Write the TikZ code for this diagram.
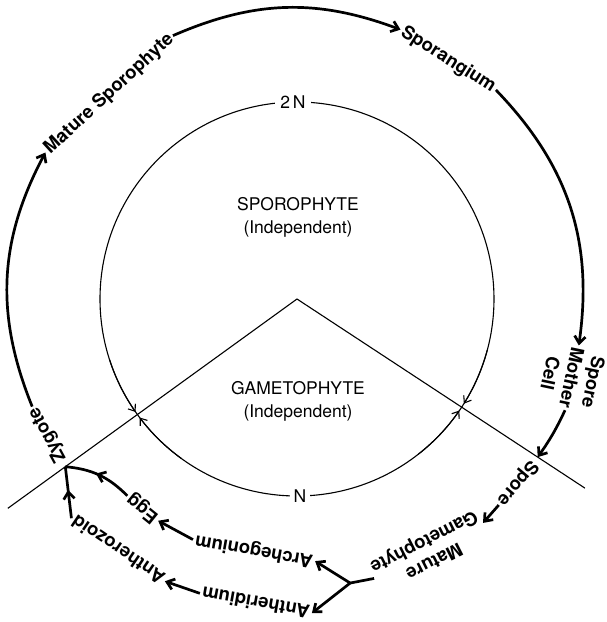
\documentclass[tikz,border=0pt]{standalone}
\usepackage{fontspec}
\setmainfont{TeX Gyre Heros}
\usepackage{tikz}
\usetikzlibrary{arrows.meta,decorations.markings}

\begin{document}
\begin{tikzpicture}[x=1pt, y=1pt, thick]
    \tikzstyle{stage} = [inner sep=2pt, align=center, font=\fontsize{18.5}{22}\selectfont\bfseries]
    \tikzstyle{phase} = [align=center, font=\fontsize{17.5}{23}\selectfont]
    \tikzstyle{flow} = [draw, line width=2.7pt, -{Straight Barb[length=7pt,width=11pt]}]
    \tikzstyle{plain} = [draw, line width=2.7pt]
    \tikzstyle{ring} = [draw, line width=1.1pt]
    \tikzstyle{ringarrow} = [draw, line width=1.1pt, -{Straight Barb[length=6pt,width=9pt]}]
    \tikzstyle{midarrow} = [plain, postaction={decorate}, decoration={markings, mark=at position 0.55 with {\arrow{Straight Barb[length=7pt,width=11pt]}}}]

    \useasboundingbox (-297,-323) rectangle (309,299);

    % inner ring: 2N above, N below the V
    \coordinate (apex) at (0,0);
    \draw[ring] (apex) circle [radius=197];
    \node[phase, fill=white, inner sep=5pt] (twoN) at (-4,197) {2\,N};
    \node[phase, fill=white, inner sep=4pt] (oneN) at (3,-197) {N};
    \node[phase] (sporo) at (1,82) {SPOROPHYTE\\(Independent)};
    \node[phase] (gameto) at (1,-102) {GAMETOPHYTE\\(Independent)};

    \coordinate (lend) at (215.9:357);
    \coordinate (rend) at (-33.3:344.5);
    \draw[ring] (lend) -- (apex) -- (rend);
    \draw[ringarrow] (198:197) arc[start angle=198, end angle=215, radius=197];
    \draw[ringarrow] (234:197) arc[start angle=234, end angle=217, radius=197];
    \draw[ringarrow] (-15:197) arc[start angle=-15, end angle=-32.1, radius=197];
    \draw[ringarrow] (-52:197) arc[start angle=-52, end angle=-34.5, radius=197];

    % life cycle stages
    \node[stage, rotate=42.5] (mspo) at (132.5:278) {Mature Sporophyte};
    \node[stage, rotate=-32.3] (spor) at (57.7:283) {Sporangium};
    \node[stage, rotate=-102] (smc) at (-16:286) {Spore\\Mother\\Cell};
    \node[stage, rotate=-130] (spore) at (-39.9:287) {Spore};
    \node[stage, rotate=-153] (mgam) at (-62.4:284) {Mature\\Gametophyte};
    \node[stage, rotate=170] (arch) at (-99.7:255) {Archegonium};
    \node[stage, rotate=141] (egg) at (-126.4:260) {Egg};
    \node[stage, rotate=170] (anth) at (-97.7:307) {Antheridium};
    \node[stage, rotate=146] (antz) at (-125.5:308) {Antherozoid};
    \node[stage, rotate=118.6] (zyg) at (208.6:284) {Zygote};

    \coordinate (zy) at (215.9:286);
    \coordinate (meio) at (-33.3:288);
    \coordinate (fork) at (-79.4:289);

    \draw[flow] (zyg.east) to[bend left=25] (mspo.west);
    \draw[flow] (mspo.east) to[bend left=22] (spor.west);
    \draw[flow] (spor.east) to[bend left=26] (smc.west);
    \draw[flow] (smc.east) to[bend left=5] (meio);
    \draw[flow] (spore.east) -- (mgam.west);
    \draw[plain] (mgam.east) -- (fork);
    \draw[flow] (fork) -- (arch.west);
    \draw[flow] (fork) -- (anth.west);
    \draw[flow] (arch.east) -- (egg.west);
    \draw[flow] (anth.east) -- (antz.west);
    \draw[midarrow] (egg.east) to[bend right=20] (zy);
    \draw[midarrow] (antz.east) -- (zy);
\end{tikzpicture}
\end{document}
